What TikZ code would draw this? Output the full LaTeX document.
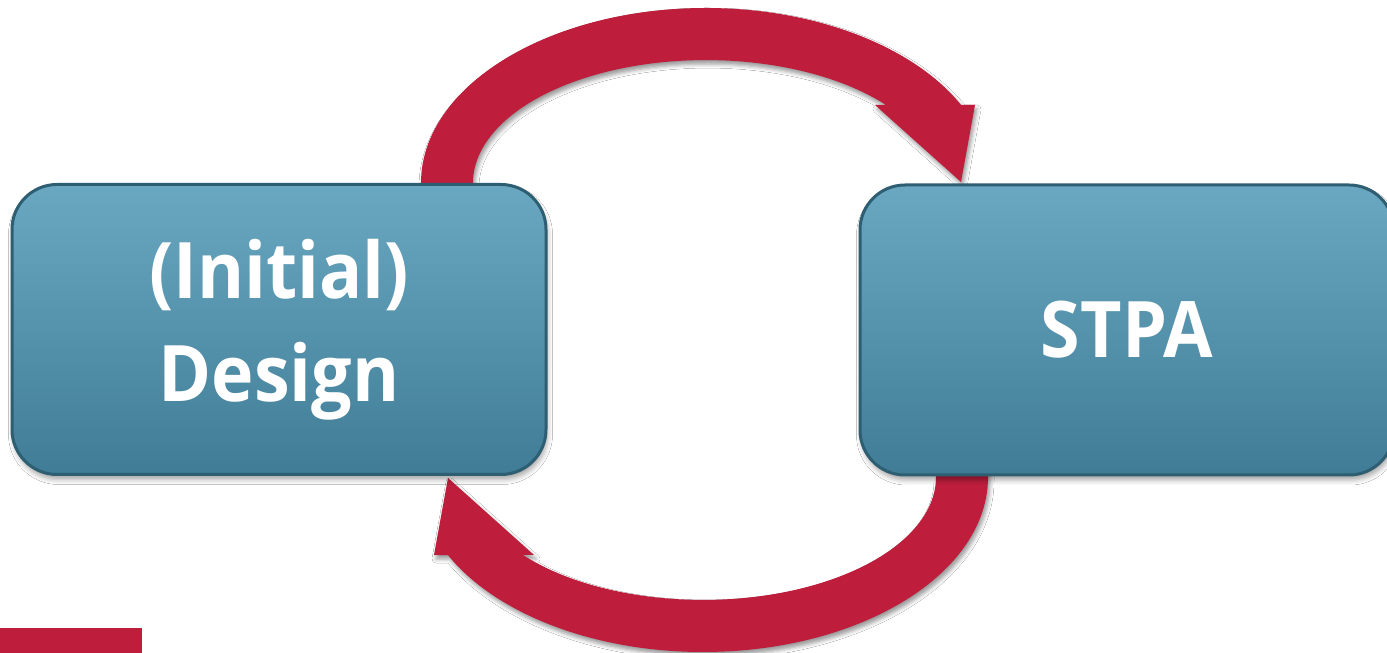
\documentclass[tikz,border=0pt]{standalone}
\usepackage{fontspec}
\setmainfont{Open Sans}[FakeStretch=0.92]
\usetikzlibrary{shadows.blur}
\definecolor{loopred}{RGB}{190,30,60}
\definecolor{boxtop}{RGB}{106,168,194}
\definecolor{boxbot}{RGB}{64,124,150}
\definecolor{boxedge}{RGB}{46,94,114}
\tikzset{
  stagebox/.style={rounded corners=45pt, draw=boxedge, line width=3pt,
    top color=boxtop, bottom color=boxbot, minimum width=534pt,
    minimum height=290pt, inner sep=0pt, text=white, align=center,
    font=\fontsize{78}{103}\selectfont\bfseries,
    blur shadow={shadow xshift=1.5pt, shadow yshift=-5pt,
      shadow blur radius=5pt, shadow opacity=35}},
  looparrow/.style={fill=loopred, draw=none,
    blur shadow={shadow xshift=2pt, shadow yshift=-4pt,
      shadow blur radius=4pt, shadow opacity=40}},
}
\begin{document}
\begin{tikzpicture}[x=1pt,y=1pt]
\fill[white] (0,0) rectangle (1387,653);
\useasboundingbox (0,0) rectangle (1387,653);

% upper loop arrow: from the design box over the top into the STPA box
\path[looparrow] (421,465) -- (421,470)
  arc[start angle=180, end angle=26.5, x radius=285, y radius=175]
  -- (975,548) -- (961,471) -- (875,548)
  -- (886,548)
  arc[start angle=39.4, end angle=180, x radius=233, y radius=123]
  -- (473,465) -- cycle;

% lower loop arrow: from the STPA box under the bottom back to the design box
\path[looparrow] (988,181) -- (988,176)
  arc[start angle=360, end angle=206.5, x radius=285, y radius=175]
  -- (434,98) -- (448,175) -- (534,98)
  -- (523,98)
  arc[start angle=219.4, end angle=360, x radius=233, y radius=123]
  -- (936,181) -- cycle;

\node[stagebox] (design) at (279,323.5) {(Initial)\\Design};
\node[stagebox] (stpa) at (1127,323) {STPA};

% corner bar
\fill[loopred] (0,0) rectangle (142,25);
\end{tikzpicture}
\end{document}
